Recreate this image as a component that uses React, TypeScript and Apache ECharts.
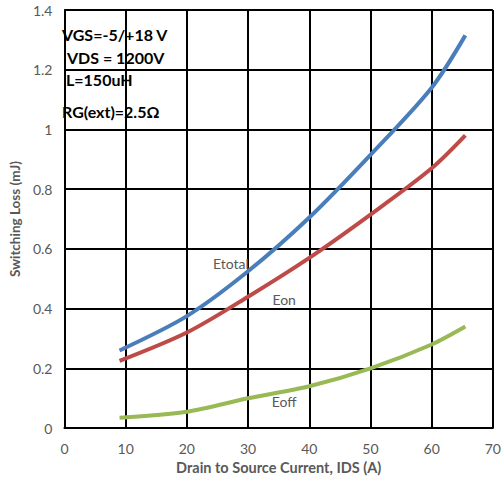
import React, { useEffect, useRef } from "react";
import * as echarts from "echarts";

const current = [9, 20, 30, 40, 50, 60, 65.5];
const etotal = [0.26, 0.375, 0.525, 0.705, 0.915, 1.14, 1.315];
const eon = [0.225, 0.32, 0.44, 0.57, 0.715, 0.87, 0.98];
const eoff = [0.035, 0.055, 0.1, 0.14, 0.2, 0.28, 0.34];
const conditions = ["VGS=-5/+18 V", "VDS = 1200V", "L=150uH", "RG(ext)=2.5Ω"];
const conditionTops = [26, 49, 71, 103];
const conditionLefts = [62, 67, 66, 62];

const font = "Lato, 'Open Sans', sans-serif";
const gray = "#595959";

export default function App() {
  const ref = useRef<HTMLDivElement>(null);
  useEffect(() => {
    const chart = echarts.init(ref.current!, null, { renderer: "svg" });
    const pts = (ys: number[]) => current.map((x, i) => [x, ys[i]]);
    const lineSeries = (name: string, ys: number[], color: string, lx: number, ly: number) => ({
      type: "line",
      name,
      data: pts(ys),
      smooth: 0.3,
      showSymbol: false,
      lineStyle: { color, width: 4 },
      markPoint: {
        symbol: "circle",
        symbolSize: 0,
        data: [{ coord: [lx, ly], value: name }],
        label: { show: true, formatter: name, color: gray, fontSize: 14, fontFamily: font, position: "inside" },
      },
    });
    chart.setOption({
      animation: false,
      grid: { left: 54, right: 8, top: 10, bottom: 48 },
      xAxis: {
        type: "value",
        min: 0,
        max: 70,
        interval: 10,
        name: "Drain to Source Current, IDS (A)",
        nameLocation: "middle",
        nameGap: 25,
        nameTextStyle: { color: gray, fontSize: 14.5, fontWeight: "bold", fontFamily: font },
        axisLine: { lineStyle: { color: "#000", width: 2 } },
        axisTick: { show: false },
        axisLabel: { color: gray, fontSize: 14, fontFamily: font, margin: 13 },
        splitLine: { show: true, lineStyle: { color: "#000", width: 2 } },
      },
      yAxis: {
        type: "value",
        min: 0,
        max: 1.4,
        interval: 0.2,
        name: "Switching Loss (mJ)",
        nameLocation: "middle",
        nameGap: 38,
        nameTextStyle: { color: gray, fontSize: 13.5, fontWeight: "bold", fontFamily: font },
        axisLine: { show: true, lineStyle: { color: "#000", width: 2 } },
        axisTick: { show: false },
        axisLabel: {
          color: gray,
          fontSize: 14,
          fontFamily: font,
          margin: 12,
          formatter: (v: number) => String(Math.round(v * 10) / 10),
        },
        splitLine: { show: true, lineStyle: { color: "#000", width: 2 } },
      },
      graphic: conditions.map((t, i) => ({
        type: "text",
        left: conditionLefts[i],
        top: conditionTops[i],
        style: { text: t, fill: "#000", font: `bold 16px ${font}` },
      })),
      series: [
        lineSeries("Etotal", etotal, "#4a7ebb", 27.2, 0.55),
        lineSeries("Eon", eon, "#be4b48", 35.9, 0.43),
        lineSeries("Eoff", eoff, "#98b954", 35.9, 0.09),
      ],
    });
    return () => chart.dispose();
  }, []);
  return <div ref={ref} style={{ width: 504, height: 480, position: "absolute", left: 0, top: 0 }} />;
}
